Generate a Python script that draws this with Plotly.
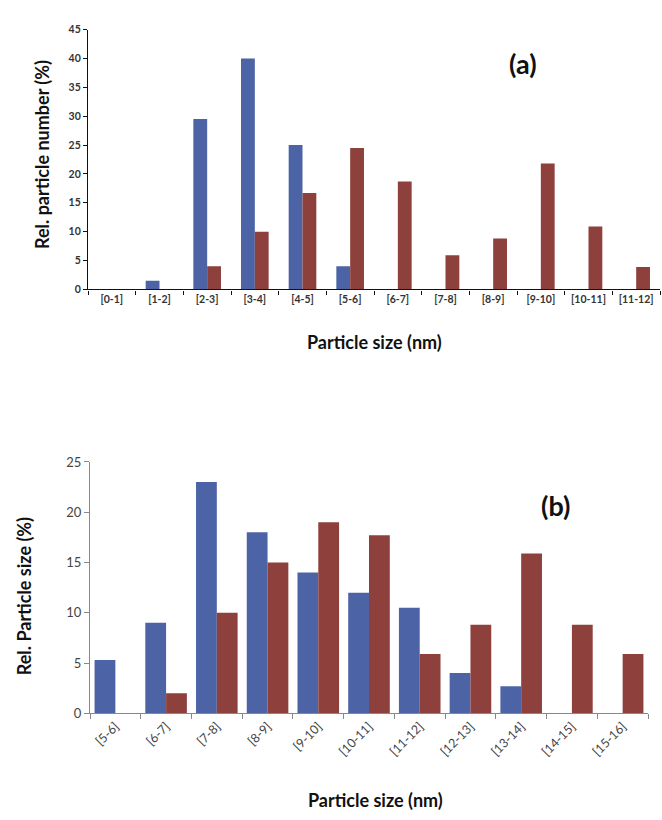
import plotly.graph_objects as go

# ---- data (a) ----
cats_a = ["[0-1]", "[1-2]", "[2-3]", "[3-4]", "[4-5]", "[5-6]",
          "[6-7]", "[7-8]", "[8-9]", "[9-10]", "[10-11]", "[11-12]"]
blue_a = [0, 1.5, 29.5, 40, 25, 4, 0, 0, 0, 0, 0, 0]
red_a = [0, 0, 4, 10, 16.7, 24.5, 18.7, 5.9, 8.8, 21.8, 10.9, 3.9]

# ---- data (b) ----
cats_b = ["[5-6]", "[6-7]", "[7-8]", "[8-9]", "[9-10]", "[10-11]",
          "[11-12]", "[12-13]", "[13-14]", "[14-15]", "[15-16]"]
blue_b = [5.3, 9, 23, 18, 14, 12, 10.5, 4, 2.7, 0, 0]
red_b = [0, 2, 10, 15, 19, 17.7, 5.9, 8.8, 15.9, 8.8, 5.9]

BLUE = "#4c63a6"
RED = "#8e413c"
W, H = 662, 820
FONT = "Lato"
WA = 0.29   # bar width (category units), chart a
WB = 0.41   # bar width (category units), chart b

fig = go.Figure()
fig.add_trace(go.Bar(x=cats_a, y=blue_a, marker_color=BLUE, xaxis="x", yaxis="y",
                     width=WA, offset=-WA, marker_line_width=0, showlegend=False))
fig.add_trace(go.Bar(x=cats_a, y=red_a, marker_color=RED, xaxis="x", yaxis="y",
                     width=WA, offset=0, marker_line_width=0, showlegend=False))
fig.add_trace(go.Bar(x=cats_b, y=blue_b, marker_color=BLUE, xaxis="x2", yaxis="y2",
                     width=WB, offset=-WB, marker_line_width=0, showlegend=False))
fig.add_trace(go.Bar(x=cats_b, y=red_b, marker_color=RED, xaxis="x2", yaxis="y2",
                     width=WB, offset=0, marker_line_width=0, showlegend=False))

fig.update_layout(
    width=W, height=H,
    margin=dict(l=0, r=0, t=0, b=0),
    paper_bgcolor="white", plot_bgcolor="white",
    font=dict(family=FONT, color="#222"),
    barmode="overlay",
    xaxis=dict(domain=[88 / W, 660 / W], anchor="y", type="category",
               range=[-0.5, 11.5], showline=True, linecolor="#111", linewidth=1.2,
               ticks="outside", ticklen=4, tickcolor="#111", tickson="boundaries",
               tickfont=dict(family=FONT, size=10.5, color="#333", weight="bold"),
               showgrid=False, zeroline=False),
    yaxis=dict(domain=[(H - 287) / H, (H - 22) / H], anchor="x", range=[0, 45],
               dtick=5, showline=True, linecolor="#111", linewidth=1.2,
               ticks="outside", ticklen=4, tickcolor="#111",
               tickfont=dict(family=FONT, size=10.5, color="#333", weight="bold"),
               showgrid=False, zeroline=False),
    xaxis2=dict(domain=[90 / W, 648 / W], anchor="y2", type="category",
                range=[-0.5, 10.5], showline=True, linecolor="#888", linewidth=1,
                ticks="outside", ticklen=5, tickcolor="#888", tickson="boundaries",
                tickangle=-45,
                tickfont=dict(family=FONT, size=12.5, color="#444"),
                showgrid=False, zeroline=False),
    yaxis2=dict(domain=[(H - 719.3) / H, (H - 463) / H], anchor="x2", range=[0, 25],
                dtick=5, showline=True, linecolor="#888", linewidth=1,
                ticks="outside", ticklen=5, tickcolor="#888",
                tickfont=dict(family=FONT, size=13, color="#444"),
                showgrid=False, zeroline=False),
)

ann = [
    dict(text="Rel. particle number (%)", x=42 / W, y=(H - 150) / H, textangle=-90,
         font=dict(size=18, weight="bold", color="#111")),
    dict(text="Particle size (nm)", x=374 / W, y=(H - 341) / H,
         font=dict(size=18, weight="bold", color="#111")),
    dict(text="(a)", x=523 / W, y=(H - 57) / H,
         font=dict(size=27, weight="bold", color="#111")),
    dict(text="Rel. Particle size (%)", x=24 / W, y=(H - 600) / H, textangle=-90,
         font=dict(size=18, weight="bold", color="#111")),
    dict(text="Particle size (nm)", x=375 / W, y=(H - 808) / H,
         font=dict(size=18, weight="bold", color="#111")),
    dict(text="(b)", x=555 / W, y=(H - 507) / H,
         font=dict(size=27, weight="bold", color="#111")),
]
for a in ann:
    a.update(xref="paper", yref="paper", showarrow=False, xanchor="center", yanchor="middle")
fig.update_layout(annotations=ann)

fig.write_html("out.html",
               config={"displayModeBar": False},
               post_script="document.body.style.margin='0';document.body.style.overflow='hidden';")
